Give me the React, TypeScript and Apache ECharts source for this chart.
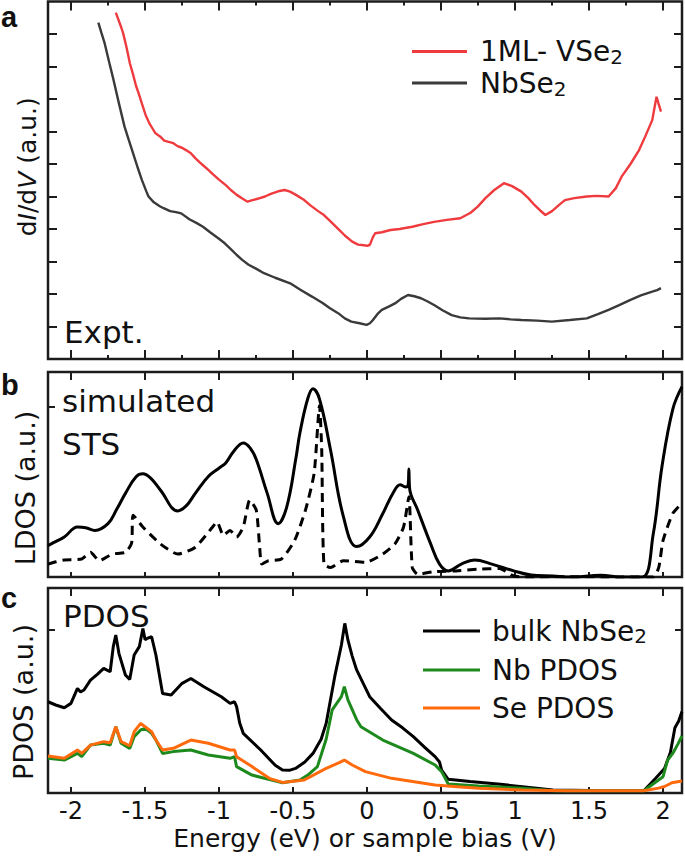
import React, { useEffect, useRef } from 'react';
import * as echarts from 'echarts';

const FONT = '"DejaVu Sans", "Liberation Sans", sans-serif';
const BOLD_FONT = '"Liberation Sans", Arial, sans-serif';

// shared energy axis
const xRange = [-2.155, 2.128];
const xMajorTicks = [-2, -1.5, -1, -0.5, 0, 0.5, 1, 1.5, 2];
const xMinorTicks = [-1.75, -1.25, -0.75, -0.25, 0.25, 0.75, 1.25, 1.75];

// panel a (experiment, dI/dV in a.u.)
const aYRange = [-1, 10];
const aYTicks = [0, 1, 2, 3, 4, 5, 6, 7, 8, 9];
const vse2Curve: number[][] = [
  [-1.697, 9.66], [-1.68, 9.45], [-1.66, 9.2], [-1.647, 9.02], [-1.625, 8.6], [-1.602, 8.1], [-1.58, 7.75],
  [-1.56, 7.4], [-1.543, 7.18], [-1.52, 6.85], [-1.495, 6.5], [-1.47, 6.25], [-1.45, 6.1], [-1.43, 5.95],
  [-1.396, 5.84], [-1.37, 5.72], [-1.34, 5.68], [-1.308, 5.64], [-1.28, 5.55], [-1.25, 5.5], [-1.22, 5.42],
  [-1.19, 5.33], [-1.16, 5.18], [-1.13, 5.05], [-1.1, 4.93], [-1.072, 4.82], [-1.04, 4.68], [-1.0, 4.52],
  [-0.954, 4.35], [-0.92, 4.2], [-0.88, 4.05], [-0.84, 3.93], [-0.807, 3.84], [-0.78, 3.88], [-0.74, 3.93],
  [-0.689, 4.0], [-0.65, 4.08], [-0.6, 4.16], [-0.556, 4.2], [-0.52, 4.15], [-0.48, 4.05], [-0.424, 3.89],
  [-0.38, 3.72], [-0.33, 3.55], [-0.291, 3.43], [-0.25, 3.25], [-0.188, 2.97], [-0.15, 2.8], [-0.1, 2.61],
  [-0.06, 2.52], [-0.02, 2.5], [0.003, 2.48], [0.02, 2.52], [0.04, 2.75], [0.055, 2.87], [0.1, 2.9],
  [0.159, 2.97], [0.22, 3.0], [0.306, 3.07], [0.38, 3.15], [0.453, 3.22], [0.54, 3.28], [0.63, 3.33],
  [0.7, 3.5], [0.748, 3.69], [0.8, 3.95], [0.86, 4.2], [0.925, 4.41], [0.98, 4.32], [1.043, 4.15],
  [1.09, 3.95], [1.131, 3.74], [1.17, 3.57], [1.205, 3.43], [1.25, 3.55], [1.3, 3.75], [1.337, 3.89],
  [1.4, 3.95], [1.485, 4.0], [1.55, 4.02], [1.632, 4.0], [1.68, 4.25], [1.72, 4.61], [1.78, 5.0],
  [1.838, 5.43], [1.88, 5.85], [1.927, 6.35], [1.945, 6.8], [1.956, 7.07], [1.97, 6.85], [1.986, 6.61],
];
const nbse2Curve: number[][] = [
  [-1.815, 9.35], [-1.795, 9.05], [-1.772, 8.71], [-1.74, 8.1], [-1.712, 7.58], [-1.675, 6.85], [-1.638, 6.15],
  [-1.61, 5.75], [-1.58, 5.33], [-1.55, 4.9], [-1.521, 4.51], [-1.49, 4.15], [-1.476, 4.0], [-1.44, 3.82],
  [-1.4, 3.7], [-1.374, 3.64], [-1.33, 3.55], [-1.29, 3.52], [-1.255, 3.48], [-1.2, 3.3], [-1.15, 3.18],
  [-1.108, 3.07], [-1.06, 2.9], [-1.0, 2.7], [-0.961, 2.56], [-0.92, 2.38], [-0.88, 2.2], [-0.843, 2.05],
  [-0.8, 1.9], [-0.75, 1.78], [-0.696, 1.64], [-0.62, 1.5], [-0.519, 1.33], [-0.45, 1.13], [-0.372, 0.92],
  [-0.3, 0.72], [-0.25, 0.56], [-0.195, 0.41], [-0.15, 0.25], [-0.106, 0.15], [-0.05, 0.1], [-0.003, 0.05],
  [0.02, 0.1], [0.04, 0.2], [0.07, 0.38], [0.1, 0.51], [0.15, 0.62], [0.189, 0.71], [0.23, 0.85],
  [0.277, 0.97], [0.32, 0.93], [0.365, 0.87], [0.41, 0.77], [0.453, 0.66], [0.51, 0.5], [0.572, 0.35],
  [0.63, 0.28], [0.689, 0.25], [0.8, 0.24], [0.895, 0.25], [0.97, 0.22], [1.043, 0.2], [1.15, 0.18],
  [1.249, 0.15], [1.37, 0.2], [1.485, 0.25], [1.56, 0.38], [1.632, 0.51], [1.7, 0.65], [1.78, 0.82],
  [1.85, 0.96], [1.927, 1.07], [1.96, 1.12], [1.986, 1.18],
];

// panel b (simulated STS, LDOS in a.u.)
const bYRange = [0, 1.206];
const bYTicks = [1];
const ldosSolid: number[][] = [
  [-2.155, 0.185], [-2.1, 0.21], [-2.045, 0.235], [-1.956, 0.294], [-1.9, 0.29], [-1.838, 0.274],
  [-1.75, 0.314], [-1.69, 0.4], [-1.632, 0.492], [-1.56, 0.59], [-1.514, 0.607], [-1.46, 0.58],
  [-1.396, 0.512], [-1.278, 0.389], [-1.22, 0.42], [-1.16, 0.492], [-1.072, 0.591], [-1.0, 0.64],
  [-0.954, 0.671], [-0.9, 0.74], [-0.836, 0.789], [-0.79, 0.76], [-0.748, 0.691], [-0.674, 0.492],
  [-0.6, 0.314], [-0.542, 0.413], [-0.48, 0.7], [-0.453, 0.849], [-0.4, 1.05], [-0.365, 1.107],
  [-0.321, 1.047], [-0.247, 0.75], [-0.159, 0.354], [-0.07, 0.179], [0.018, 0.235], [0.107, 0.374],
  [0.18, 0.5], [0.224, 0.542], [0.26, 0.53], [0.278, 0.54], [0.283, 0.635], [0.288, 0.52], [0.343, 0.393],
  [0.43, 0.195], [0.49, 0.076], [0.549, 0.036], [0.637, 0.076], [0.726, 0.1], [0.843, 0.076],
  [0.991, 0.036], [1.109, 0.012], [1.256, 0.006], [1.374, 0.0], [1.58, 0.01], [1.727, 0.0], [1.86, 0.0],
  [1.934, 0.254], [1.993, 0.651], [2.066, 0.988], [2.128, 1.12],
];
const ldosDashed: number[][] = [
  [-2.155, 0.076], [-2.1, 0.09], [-2.045, 0.1], [-1.927, 0.106], [-1.868, 0.145], [-1.809, 0.096],
  [-1.721, 0.135], [-1.632, 0.145], [-1.59, 0.2], [-1.58, 0.364], [-1.514, 0.294], [-1.396, 0.195],
  [-1.278, 0.135], [-1.16, 0.175], [-1.043, 0.294], [-1.013, 0.324], [-0.97, 0.245], [-0.925, 0.274],
  [-0.881, 0.235], [-0.836, 0.294], [-0.792, 0.452], [-0.748, 0.393], [-0.725, 0.175], [-0.711, 0.076],
  [-0.666, 0.096], [-0.578, 0.106], [-0.489, 0.215], [-0.416, 0.393], [-0.357, 0.611], [-0.321, 1.008],
  [-0.306, 0.75], [-0.291, 0.076], [-0.247, 0.056], [-0.159, 0.096], [-0.011, 0.086], [0.107, 0.135],
  [0.189, 0.195], [0.247, 0.294], [0.283, 0.472], [0.306, 0.056], [0.343, 0.016], [0.453, 0.032],
  [0.601, 0.036], [0.748, 0.046], [0.895, 0.05], [0.991, 0.006], [1.109, 0.0], [1.337, 0.002],
  [1.691, 0.0], [1.934, 0.0], [1.971, 0.056], [2.0, 0.215], [2.066, 0.374], [2.128, 0.433],
];

// panel c (PDOS in a.u.)
const cYRange = [0, 1.258];
const cYTicks = [1];
const bulkNbSe2: number[][] = [
  [-2.155, 0.56], [-2.103, 0.54], [-2.045, 0.523], [-2.0, 0.55], [-1.956, 0.642], [-1.935, 0.62],
  [-1.912, 0.632], [-1.868, 0.693], [-1.82, 0.73], [-1.779, 0.765], [-1.735, 0.744], [-1.714, 0.898],
  [-1.697, 0.969], [-1.676, 0.857], [-1.632, 0.724], [-1.603, 0.697], [-1.573, 0.847], [-1.538, 0.898],
  [-1.514, 1.01], [-1.499, 0.94], [-1.485, 0.949], [-1.455, 0.959], [-1.426, 0.847], [-1.381, 0.611],
  [-1.323, 0.601], [-1.249, 0.673], [-1.19, 0.703], [-1.15, 0.68], [-1.102, 0.652], [-1.04, 0.62],
  [-0.984, 0.591], [-0.925, 0.55], [-0.895, 0.56], [-0.881, 0.53], [-0.86, 0.43], [-0.836, 0.366],
  [-0.718, 0.264], [-0.62, 0.17], [-0.571, 0.141], [-0.52, 0.14], [-0.483, 0.151], [-0.42, 0.19],
  [-0.365, 0.243], [-0.31, 0.33], [-0.276, 0.427], [-0.218, 0.714], [-0.173, 0.908], [-0.15, 1.041],
  [-0.129, 0.939], [-0.1, 0.84], [-0.07, 0.755], [0.018, 0.591], [0.09, 0.52], [0.166, 0.448],
  [0.24, 0.4], [0.313, 0.346], [0.39, 0.28], [0.46, 0.223], [0.49, 0.19], [0.504, 0.141], [0.549, 0.084],
  [0.696, 0.07], [0.902, 0.053], [1.05, 0.039], [1.256, 0.018], [1.639, 0.014], [1.87, 0.014],
  [1.95, 0.09], [2.01, 0.15], [2.05, 0.25], [2.08, 0.4], [2.105, 0.44], [2.128, 0.5],
];
const nbPdos: number[][] = [
  [-2.155, 0.213], [-2.045, 0.202], [-1.956, 0.243], [-1.927, 0.223], [-1.868, 0.294], [-1.779, 0.305],
  [-1.735, 0.294], [-1.697, 0.407], [-1.661, 0.305], [-1.603, 0.274], [-1.573, 0.346], [-1.529, 0.387],
  [-1.499, 0.397], [-1.455, 0.366], [-1.426, 0.325], [-1.381, 0.243], [-1.308, 0.254], [-1.19, 0.264],
  [-1.072, 0.233], [-0.925, 0.213], [-0.895, 0.223], [-0.881, 0.162], [-0.777, 0.11], [-0.571, 0.063],
  [-0.453, 0.08], [-0.4, 0.11], [-0.335, 0.162], [-0.276, 0.33], [-0.235, 0.51], [-0.173, 0.591],
  [-0.153, 0.652], [-0.129, 0.571], [-0.07, 0.45], [-0.041, 0.407], [0.107, 0.325], [0.313, 0.243],
  [0.46, 0.172], [0.504, 0.131], [0.549, 0.055], [0.755, 0.043], [1.05, 0.029], [1.256, 0.014],
  [1.87, 0.014], [2.0, 0.1], [2.03, 0.2], [2.07, 0.25], [2.1, 0.3], [2.128, 0.35],
];
const sePdos: number[][] = [
  [-2.155, 0.227], [-2.045, 0.213], [-1.956, 0.264], [-1.927, 0.243], [-1.868, 0.294], [-1.779, 0.315],
  [-1.735, 0.309], [-1.697, 0.407], [-1.661, 0.315], [-1.603, 0.29], [-1.573, 0.376], [-1.529, 0.427],
  [-1.499, 0.407], [-1.455, 0.376], [-1.426, 0.325], [-1.381, 0.264], [-1.308, 0.274], [-1.19, 0.325],
  [-1.072, 0.305], [-0.925, 0.264], [-0.895, 0.264], [-0.881, 0.223], [-0.777, 0.162], [-0.66, 0.09],
  [-0.571, 0.065], [-0.424, 0.08], [-0.276, 0.151], [-0.188, 0.186], [-0.153, 0.202], [-0.1, 0.172],
  [-0.011, 0.131], [0.166, 0.09], [0.46, 0.049], [0.607, 0.039], [0.755, 0.029], [1.05, 0.018],
  [1.344, 0.014], [1.87, 0.014], [1.97, 0.03], [2.01, 0.04], [2.06, 0.063], [2.128, 0.074],
];

const INK = '#1c1c1c';

function xAxisFor(gridIndex: number, position: 'top' | 'bottom', ticks: number[], tickLen: number, extra: any = {}) {
  return {
    type: 'value',
    gridIndex,
    position,
    min: xRange[0],
    max: xRange[1],
    axisLine: { show: false, onZero: false },
    splitLine: { show: false },
    axisTick: { show: true, inside: true, length: tickLen, customValues: ticks, lineStyle: { color: INK, width: 2 } },
    axisLabel: { show: false },
    ...extra,
  };
}

function yAxisFor(gridIndex: number, position: 'left' | 'right', range: number[], ticks: number[], tickLen: number, extra: any = {}) {
  return {
    type: 'value',
    gridIndex,
    position,
    min: range[0],
    max: range[1],
    axisLine: { show: false, onZero: false },
    splitLine: { show: false },
    axisTick: { show: true, inside: true, length: tickLen, customValues: ticks, lineStyle: { color: INK, width: 2 } },
    axisLabel: { show: false },
    ...extra,
  };
}

const legendFormatter = (name: string) =>
  name.endsWith('Se2') ? `{t|${name.slice(0, -1)}}{s|2}` : `{t|${name}}`;

function legendRich(lh: number) {
  return {
    t: { fontSize: 28, fontFamily: FONT, color: '#111', lineHeight: lh },
    s: { fontSize: 20, fontFamily: FONT, color: '#111', lineHeight: 18, verticalAlign: 'bottom' },
  };
}

function lineSeries(name: string, data: number[][], xi: number, yi: number, color: string, width: number, extra: any = {}) {
  return {
    type: 'line',
    name,
    data,
    xAxisIndex: xi,
    yAxisIndex: yi,
    symbol: 'none',
    showSymbol: false,
    lineStyle: { color, width },
    itemStyle: { color },
    ...extra,
  };
}

function annotation(text: string, x: number, y: number, size: number, font = FONT, weight: any = 'normal') {
  return {
    type: 'text',
    x,
    y,
    silent: true,
    style: { text, fontSize: size, fontFamily: font, fontWeight: weight, fill: '#111', align: 'left', verticalAlign: 'middle' },
  };
}

export default function App() {
  const ref = useRef<HTMLDivElement>(null);
  useEffect(() => {
    if (!ref.current) return;
    const chart = echarts.init(ref.current, undefined, { renderer: 'svg' });
    const gridBase = { left: 48, width: 634, show: true, borderColor: INK, borderWidth: 2.5, backgroundColor: 'transparent', containLabel: false, outerBoundsMode: 'none' };
    const option: any = {
      animation: false,
      backgroundColor: '#ffffff',
      textStyle: { fontFamily: FONT },
      grid: [
        { ...gridBase, top: 1.5, height: 357.5 },
        { ...gridBase, top: 372, height: 205 },
        { ...gridBase, top: 588, height: 205 },
      ],
      xAxis: [
        xAxisFor(0, 'bottom', xMajorTicks, 9),
        xAxisFor(0, 'top', xMajorTicks, 9),
        xAxisFor(0, 'bottom', xMinorTicks, 4),
        xAxisFor(0, 'top', xMinorTicks, 4),
        xAxisFor(1, 'bottom', xMajorTicks, 5),
        xAxisFor(1, 'top', xMajorTicks, 8),
        xAxisFor(2, 'bottom', xMajorTicks, 6, {
          axisLabel: { show: true, customValues: xMajorTicks, fontSize: 24, lineHeight: 20, fontFamily: FONT, color: '#111', margin: 8, formatter: (v: number) => String(v) },
          name: 'Energy (eV) or sample bias (V)',
          nameLocation: 'middle',
          nameGap: 34,
          nameTextStyle: { fontSize: 25, lineHeight: 22, fontFamily: FONT, color: '#111' },
        }),
        xAxisFor(2, 'top', xMajorTicks, 8),
      ],
      yAxis: [
        yAxisFor(0, 'left', aYRange, aYTicks, 9, {
          name: 'd{i|I}/d{i|V} (a.u.)',
          nameLocation: 'middle',
          nameGap: 8,
          nameTextStyle: {
            fontSize: 25, fontFamily: FONT, color: '#111', padding: [0, 0, 0, 27],
            rich: { i: { fontSize: 25, fontFamily: FONT, fontStyle: 'italic', color: '#111' } },
          },
        }),
        yAxisFor(0, 'right', aYRange, aYTicks, 8),
        yAxisFor(1, 'left', bYRange, bYTicks, 7, {
          name: 'LDOS (a.u.)',
          nameLocation: 'middle',
          nameGap: 9,
          nameTextStyle: { fontSize: 27, fontFamily: FONT, color: '#111', padding: [0, 27, 0, 0] },
        }),
        yAxisFor(2, 'left', cYRange, cYTicks, 7, {
          name: 'PDOS (a.u.)',
          nameLocation: 'middle',
          nameGap: 11,
          nameTextStyle: { fontSize: 27, fontFamily: FONT, color: '#111', padding: [0, 23, 0, 0] },
        }),
        yAxisFor(2, 'right', cYRange, cYTicks, 7),
      ],
      legend: [
        {
          data: ['1ML- VSe2', 'NbSe2'],
          orient: 'vertical',
          left: 407,
          top: 32.5,
          icon: 'rect',
          itemWidth: 55,
          itemHeight: 3,
          itemGap: 2,
          selectedMode: false,
          formatter: legendFormatter,
          textStyle: { padding: [0, 0, 0, 8], rich: legendRich(31) },
        },
        {
          data: ['bulk NbSe2', 'Nb PDOS', 'Se PDOS'],
          orient: 'vertical',
          left: 418,
          top: 612,
          icon: 'rect',
          itemWidth: 57,
          itemHeight: 3,
          itemGap: 10,
          selectedMode: false,
          formatter: legendFormatter,
          textStyle: { padding: [0, 0, 0, 7], rich: legendRich(30) },
        },
      ],
      graphic: [
        annotation('a', 1, 17, 29, BOLD_FONT, 'bold'),
        annotation('b', 1, 385, 29, BOLD_FONT, 'bold'),
        annotation('c', 1, 598, 29, BOLD_FONT, 'bold'),
        annotation('Expt.', 64, 332, 31),
        annotation('simulated', 62, 401, 31),
        annotation('STS', 62, 444, 31),
        annotation('PDOS', 63, 616, 31),
      ],
      series: [
        lineSeries('1ML- VSe2', vse2Curve, 0, 0, '#ef3b3e', 2.4),
        lineSeries('NbSe2', nbse2Curve, 0, 0, '#3a3a3a', 2.4),
        lineSeries('LDOS', ldosSolid, 4, 2, '#000000', 3, { smooth: 0.4 }),
        lineSeries('LDOS (dashed)', ldosDashed, 4, 2, '#000000', 3, { smooth: 0.2, lineStyle: { color: '#000000', width: 3, type: [9, 6] } }),
        lineSeries('bulk NbSe2', bulkNbSe2, 6, 3, '#000000', 3),
        lineSeries('Nb PDOS', nbPdos, 6, 3, '#1e8a1e', 3),
        lineSeries('Se PDOS', sePdos, 6, 3, '#ff6a0d', 3),
      ],
    };
    chart.setOption(option);
    return () => chart.dispose();
  }, []);
  return <div ref={ref} style={{ position: 'absolute', left: 0, top: 0, width: 685, height: 859, background: '#fff' }} />;
}
